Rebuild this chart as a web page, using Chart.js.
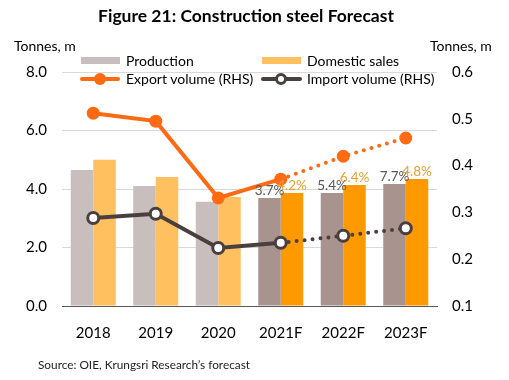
<!DOCTYPE html>
<html><head><meta charset="utf-8">
<script src="https://cdn.jsdelivr.net/npm/chart.js@4.4.1/dist/chart.umd.min.js"></script>
<style>
html,body{margin:0;padding:0;background:#fff;}
#wrap{position:relative;width:509px;height:380px;font-family:Lato,"Open Sans",sans-serif;color:#000;}
canvas{position:absolute;left:0;top:0;}
.t{position:absolute;white-space:nowrap;}
.sw{position:absolute;}
</style></head><body>
<div id="wrap">
<canvas id="c" width="509" height="380"></canvas>
<div class="t" style="left:0;width:492px;text-align:center;top:5px;font-size:17.5px;font-weight:bold;">Figure 21: Construction steel Forecast</div>
<div class="t" style="left:14px;top:37px;font-size:14px;">Tonnes, m</div>
<div class="t" style="left:430px;top:37px;font-size:14px;">Tonnes, m</div>
<div class="sw" style="left:81px;top:57px;width:39px;height:7px;background:#C8BEBE;"></div>
<div class="t" style="left:126px;top:52px;font-size:14px;">Production</div>
<div class="sw" style="left:262px;top:57px;width:39px;height:7px;background:#FFC060;"></div>
<div class="t" style="left:307px;top:52px;font-size:14px;">Domestic sales</div>
<div class="sw" style="left:80px;top:77px;width:40px;height:4px;border-radius:2px;background:#FF6A13;"></div>
<div class="sw" style="left:94px;top:73px;width:12px;height:12px;border-radius:6px;background:#FF6A13;"></div>
<div class="t" style="left:126px;top:70px;font-size:14px;">Export volume (RHS)</div>
<div class="sw" style="left:261px;top:77px;width:41px;height:4px;border-radius:2px;background:#4A3F3F;"></div>
<div class="sw" style="left:275px;top:73px;width:6px;height:6px;border-radius:6px;background:#fff;border:3px solid #4A3F3F;"></div>
<div class="t" style="left:307px;top:70px;font-size:14px;">Import volume (RHS)</div>
<div class="t" style="left:38px;top:357px;font-size:11.8px;color:#222;">Source: OIE, Krungsri Research’s forecast</div>
</div>
<script>
const categories = ["2018","2019","2020","2021F","2022F","2023F"];
const production = [4.65, 4.10, 3.56, 3.69, 3.86, 4.17];
const domesticSales = [5.00, 4.41, 3.73, 3.86, 4.14, 4.34];
const exportVolume = [0.512, 0.495, 0.331, 0.371, 0.420, 0.459];
const importVolume = [0.288, 0.297, 0.224, 0.235, 0.250, 0.266];
const productionLabels = ["", "", "", "3.7%", "5.4%", "7.7%"];
const domesticLabels = ["", "", "", "4.2%", "6.4%", "4.8%"];
const forecastStart = 3;

const prodColors = categories.map((c,i)=> i>=forecastStart ? "#A8938F" : "#C8BEBE");
const domColors = categories.map((c,i)=> i>=forecastStart ? "#FF9900" : "#FFC060");
const dotted = ctx => ctx.p0DataIndex >= forecastStart ? [0, 8] : undefined;

const labelPlugin = {
  id: "barLabels",
  afterDatasetsDraw(chart) {
    const ctx = chart.ctx;
    ctx.save();
    ctx.font = "13.5px Lato, 'Open Sans', sans-serif";
    ctx.textAlign = "center";
    ctx.textBaseline = "bottom";
    [[0, productionLabels, "#595959"], [1, domesticLabels, "#E8A02E"]].forEach(([di, labels, col]) => {
      const meta = chart.getDatasetMeta(di);
      meta.data.forEach((el, i) => {
        if (!labels[i]) return;
        ctx.fillStyle = col;
        ctx.fillText(labels[i], el.x, el.y - 1);
      });
    });
    ctx.restore();
  }
};

new Chart(document.getElementById("c"), {
  data: {
    labels: categories,
    datasets: [
      { type: "bar", label: "Production", data: production, backgroundColor: prodColors, yAxisID: "y", order: 2, categoryPercentage: 0.72, barPercentage: 1.0 },
      { type: "bar", label: "Domestic sales", data: domesticSales, backgroundColor: domColors, yAxisID: "y", order: 2, categoryPercentage: 0.72, barPercentage: 1.0 },
      { type: "line", label: "Export volume (RHS)", data: exportVolume, yAxisID: "y1", order: 1,
        borderColor: "#FF6A13", borderWidth: 4, borderCapStyle: "round",
        pointRadius: 6.5, pointBackgroundColor: "#FF6A13", pointBorderColor: "#FF6A13", pointBorderWidth: 0,
        segment: { borderDash: dotted } },
      { type: "line", label: "Import volume (RHS)", data: importVolume, yAxisID: "y1", order: 1,
        borderColor: "#4A3F3F", borderWidth: 4, borderCapStyle: "round",
        pointRadius: 5.5, pointBackgroundColor: "#FFFFFF", pointBorderColor: "#4A3F3F", pointBorderWidth: 3,
        segment: { borderDash: dotted } }
    ]
  },
  options: {
    responsive: false,
    animation: false,
    events: [],
    layout: { padding: { top: 72, left: 0, right: 0, bottom: 0 } },
    plugins: { legend: { display: false }, tooltip: { enabled: false } },
    scales: {
      x: {
        grid: { display: false },
        border: { display: true, color: "#595959", width: 1 },
        ticks: { color: "#000", font: { family: "Lato", size: 15 }, padding: 10 },
        afterFit(s) { s.height = 74; }
      },
      y: {
        position: "left", min: 0, max: 8,
        grid: { color: "#D9D9D9", drawTicks: false },
        border: { display: false },
        ticks: { stepSize: 2, color: "#000", font: { family: "Lato", size: 15 }, padding: 15, callback: v => v.toFixed(1) },
        afterFit(s) { s.width = 62; }
      },
      y1: {
        position: "right", min: 0.1, max: 0.6,
        grid: { display: false, drawTicks: false },
        border: { display: false },
        ticks: { stepSize: 0.1, color: "#000", font: { family: "Lato", size: 15 }, padding: 15, callback: v => v.toFixed(1) },
        afterFit(s) { s.width = 72; }
      }
    }
  },
  plugins: [labelPlugin]
});
</script>
</body></html>
